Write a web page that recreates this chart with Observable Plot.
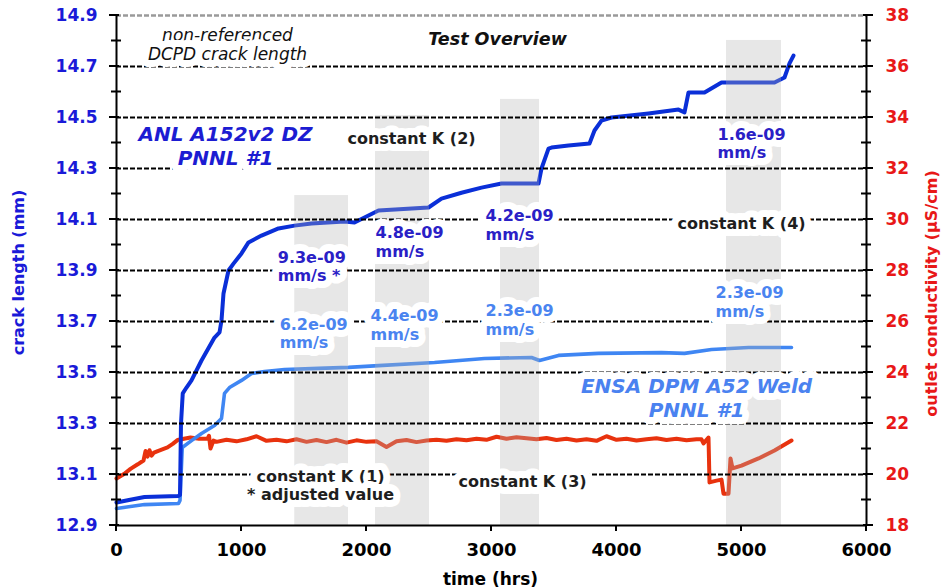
<!DOCTYPE html>
<html>
<head>
<meta charset="utf-8">
<script src="https://cdn.jsdelivr.net/npm/d3@7"></script>
<script src="https://cdn.jsdelivr.net/npm/@observablehq/plot@0.6"></script>
<style>
  html, body { margin: 0; padding: 0; background: #fff; }
  #chart { width: 942px; height: 588px; overflow: hidden; }
</style>
</head>
<body>
<div id="chart"></div>
<script>
// ---------- data ----------
const anlHours = [0, 100, 224, 496, 508, 516, 530, 560, 600, 680, 784, 824, 840, 856, 896, 936, 1000, 1056, 1160, 1296, 1424, 1560, 1824, 1904, 2096, 2496, 2600, 2760, 2920, 3080, 3376, 3400, 3456, 3480, 3616, 3784, 3824, 3880, 3960, 4256, 4496, 4544, 4576, 4704, 4840, 5264, 5344, 5384, 5416];
const anlCrack = [12.99, 13.0, 13.012, 13.016, 13.02, 13.30, 13.418, 13.441, 13.469, 13.547, 13.637, 13.657, 13.704, 13.81, 13.9, 13.927, 13.967, 14.01, 14.037, 14.065, 14.076, 14.084, 14.092, 14.088, 14.135, 14.147, 14.182, 14.205, 14.225, 14.241, 14.241, 14.3, 14.378, 14.382, 14.39, 14.398, 14.449, 14.488, 14.5, 14.516, 14.531, 14.52, 14.598, 14.598, 14.637, 14.637, 14.657, 14.712, 14.743];

const ensaHours = [0, 224, 496, 508, 526, 600, 680, 784, 840, 864, 904, 1000, 1080, 1184, 1344, 1616, 1856, 2096, 2544, 2944, 3320, 3384, 3536, 3856, 4360, 4544, 4760, 5056, 5400];
const ensaCrack = [12.967, 12.982, 12.986, 12.998, 13.206, 13.233, 13.261, 13.292, 13.32, 13.418, 13.441, 13.469, 13.496, 13.504, 13.512, 13.516, 13.52, 13.527, 13.539, 13.555, 13.559, 13.547, 13.567, 13.575, 13.578, 13.575, 13.59, 13.598, 13.598];

const condHours = [0, 60, 112, 170, 216, 232, 248, 264, 280, 300, 330, 408, 450, 488, 540, 592, 660, 728, 740, 752, 776, 800,
  880, 960, 1040, 1120, 1200, 1280, 1360, 1440, 1520, 1600, 1680, 1760, 1840, 1920, 2000, 2080, 2160, 2240, 2320, 2400, 2480,
  2560, 2640, 2720, 2800, 2880, 2960, 3040, 3120, 3200, 3280, 3360, 3440, 3520, 3600, 3680, 3760, 3840, 3920, 4000, 4080,
  4160, 4240, 4320, 4400, 4480, 4560, 4640, 4680, 4696, 4736, 4744, 4800, 4840, 4856, 4896, 4912, 4928, 5000, 5136, 5264, 5400];
const condValues = [19.84, 20.02, 20.22, 20.40, 20.55, 20.92, 20.70, 20.95, 20.74, 20.86, 20.92, 21.06, 21.2, 21.35, 21.40, 21.45, 21.40, 21.40, 21.52, 21.02, 21.33, 21.28,
  21.36, 21.30, 21.38, 21.5, 21.32, 21.36, 21.30, 21.38, 21.28, 21.35, 21.27, 21.36, 21.25, 21.34, 21.28, 21.30, 21.08, 21.30, 21.35, 21.27, 21.33,
  21.36, 21.32, 21.38, 21.34, 21.40, 21.36, 21.48, 21.40, 21.46, 21.42, 21.38, 21.43, 21.35, 21.40, 21.33, 21.38, 21.32, 21.50, 21.36, 21.40,
  21.33, 21.38, 21.42, 21.35, 21.40, 21.34, 21.38, 21.38, 21.22, 21.45, 19.69, 19.76, 19.80, 19.25, 19.25, 20.63, 20.24, 20.35, 20.63, 20.94, 21.33];

// constant-K hold periods
const kStart = [1426, 2072, 3072, 4880];
const kEnd   = [1856, 2504, 3384, 5320];
const kTop   = [14.194, 14.508, 14.571, 14.802];

// axes
const xDomain = [0, 6000];
const yDomain = [12.9, 14.9];
const condDomain = [18, 38];
const xTicks = [0, 1000, 2000, 3000, 4000, 5000, 6000];
const crackTicks = [12.9, 13.1, 13.3, 13.5, 13.7, 13.9, 14.1, 14.3, 14.5, 14.7, 14.9];
const crackMinorTicks = [13.0, 13.2, 13.4, 13.6, 13.8, 14.0, 14.2, 14.4, 14.6, 14.8];
const condTicks = [18, 20, 22, 24, 26, 28, 30, 32, 34, 36, 38];
const gridLines = [13.1, 13.3, 13.5, 13.7, 13.9, 14.1, 14.3, 14.5, 14.7];

// annotations (hours, mm)
const rateDarkText = ["9.3e-09\nmm/s *", "4.8e-09\nmm/s", "4.2e-09\nmm/s", "1.6e-09\nmm/s"];
const rateDarkX = [1290, 2072, 2952, 4808];
const rateDarkY = [13.916, 14.014, 14.080, 14.40];
const rateLightText = ["6.2e-09\nmm/s", "4.4e-09\nmm/s", "2.3e-09\nmm/s", "2.3e-09\nmm/s"];
const rateLightX = [1305, 2032, 2952, 4792];
const rateLightY = [13.655, 13.688, 13.708, 13.778];
const kText = ["constant K (1)\n* adjusted value", "constant K (2)", "constant K (3)", "constant K (4)"];
const kTextX = [1632, 2360, 3248, 5000];
const kTextY = [13.057, 14.418, 13.073, 14.084];
const seriesText = ["ANL A152v2 DZ\nPNNL #1", "ENSA DPM A52 Weld\nPNNL #1"];
const seriesTextX = [872, 4640];
const seriesTextY = [14.39, 13.402];
const seriesTextColor = ["#1c1cd2", "#4a82f0"];
const noteText = ["non-referenced\nDCPD crack length"];
const titleText = ["Test Overview"];

// ---------- tables ----------
const toCrack = c => yDomain[0] + (c - condDomain[0]) * (yDomain[1] - yDomain[0]) / (condDomain[1] - condDomain[0]);
const anl = anlHours.map((h, i) => ({h, v: anlCrack[i]}));
const ensa = ensaHours.map((h, i) => ({h, v: ensaCrack[i]}));
const cond = condHours.map((h, i) => ({h, v: toCrack(condValues[i])}));
const holds = kStart.map((s, i) => ({s, e: kEnd[i], t: kTop[i]}));
const zip = (t, x, y) => t.map((s, i) => ({s, x: x[i], y: y[i]}));

const FONT = "DejaVu Sans";
const halo = {stroke: "white", strokeWidth: 14, fontFamily: FONT};

const tickMarks = (index, scales) => {
  const {x, y} = scales;
  const g = d3.create("svg:g").attr("stroke", "black").attr("stroke-width", 2).attr("fill", "none");
  const xl = x(xDomain[0]), xr = x(xDomain[1]), yb = y(yDomain[0]);
  const line = (x1, y1, x2, y2) => g.append("line").attr("x1", x1).attr("y1", y1).attr("x2", x2).attr("y2", y2);
  crackTicks.forEach(v => { line(xl - 7, y(v), xl + 3, y(v)); line(xr - 3, y(v), xr + 7, y(v)); });
  crackMinorTicks.forEach(v => { line(xl - 5, y(v), xl + 5, y(v)); line(xr - 5, y(v), xr + 5, y(v)); });
  xTicks.forEach(v => line(x(v), yb, x(v), yb + 6));
  return g.node();
};

const chart = Plot.plot({
  width: 942,
  height: 588,
  marginLeft: 116,
  marginRight: 76,
  marginTop: 15,
  marginBottom: 63,
  style: {fontFamily: FONT, background: "white", overflow: "visible"},
  x: {domain: xDomain, label: null},
  y: {domain: yDomain, label: null},
  marks: [
    Plot.line(cond, {x: "h", y: "v", stroke: "#e8320e", strokeWidth: 4, strokeLinejoin: "round"}),
    Plot.line(ensa, {x: "h", y: "v", stroke: "#3f86f3", strokeWidth: 3.6, strokeLinejoin: "round"}),
    Plot.line(anl, {x: "h", y: "v", stroke: "#0a2fd8", strokeWidth: 4, strokeLinejoin: "round"}),
    Plot.rect(holds, {x1: "s", x2: "e", y1: yDomain[0], y2: "t", fill: "#b4b4b4", fillOpacity: 0.32}),
    Plot.ruleY(gridLines, {stroke: "black", strokeWidth: 1.8, strokeDasharray: "5,2"}),
    Plot.ruleY([yDomain[1]], {stroke: "#9a9a9a", strokeWidth: 2.5, strokeDasharray: "5,2"}),
    Plot.ruleX(xDomain, {stroke: "black", strokeWidth: 2}),
    Plot.ruleY([yDomain[0]], {stroke: "black", strokeWidth: 2}),
    tickMarks,
    Plot.axisY(crackTicks, {anchor: "left", tickSize: 0, tickPadding: 19, tickFormat: d3.format(".1f"),
      fill: "#1a1ad8", color: "#1a1ad8", fontSize: 17, fontWeight: "bold", fontFamily: FONT, label: null}),
    Plot.axisY(condTicks.map(toCrack), {anchor: "right", tickSize: 0, tickPadding: 19,
      tickFormat: d => String(Math.round(condDomain[0] + (d - yDomain[0]) * 10)),
      fill: "#e81818", color: "#e81818", fontSize: 17, fontWeight: "bold", fontFamily: FONT, label: null}),
    Plot.axisX(xTicks, {anchor: "bottom", tickSize: 0, tickPadding: 18, tickFormat: d => String(d), fill: "black", color: "black",
      fontSize: 18, fontWeight: "bold", fontFamily: FONT, label: null}),
    Plot.text(["crack length (mm)"], {text: d => d, frameAnchor: "left", textAnchor: "middle", lineAnchor: "middle", dx: -98, dy: 2, rotate: -90,
      fill: "#1a1ad8", fontSize: 16, fontWeight: "bold", fontFamily: FONT}),
    Plot.text(["outlet conductivity (µS/cm)"], {text: d => d, frameAnchor: "right", textAnchor: "middle", lineAnchor: "middle", dx: 65, dy: 23, rotate: -90,
      fill: "#e81818", fontSize: 16, fontWeight: "bold", fontFamily: FONT}),
    Plot.text(["time (hrs)"], {text: d => d, frameAnchor: "bottom", textAnchor: "middle", lineAnchor: "middle", dx: -1, dy: 54,
      fill: "black", fontSize: 17, fontWeight: "bold", fontFamily: FONT}),
    Plot.text(noteText, {text: d => d, x: 888, y: 14.786, fontStyle: "italic", fontSize: 17, lineHeight: 1.1, fill: "#111", ...halo}),
    Plot.text(titleText, {text: d => d, x: 3048, y: 14.806, fontStyle: "italic", fontWeight: "bold", fontSize: 17.5, fill: "#111", ...halo}),
    Plot.text(zip(seriesText, seriesTextX, seriesTextY), {text: "s", x: "x", y: "y", fill: (d, i) => seriesTextColor[i],
      fontStyle: "italic", fontWeight: "bold", fontSize: 20, lineHeight: 1.2, ...halo}),
    Plot.text(zip(kText, kTextX, kTextY), {text: "s", x: "x", y: "y", fill: "#1e1e1e", fontWeight: "bold", fontSize: 16, lineHeight: 1.12, ...halo}),
    Plot.text(zip(rateDarkText, rateDarkX, rateDarkY), {text: "s", x: "x", y: "y", textAnchor: "start", fill: "#2a20c6",
      fontWeight: "bold", fontSize: 16, lineHeight: 1.15, ...halo}),
    Plot.text(zip(rateLightText, rateLightX, rateLightY), {text: "s", x: "x", y: "y", textAnchor: "start", fill: "#4a84f0",
      fontWeight: "bold", fontSize: 16, lineHeight: 1.15, ...halo})
  ]
});
document.getElementById("chart").appendChild(chart);
</script>
</body>
</html>
